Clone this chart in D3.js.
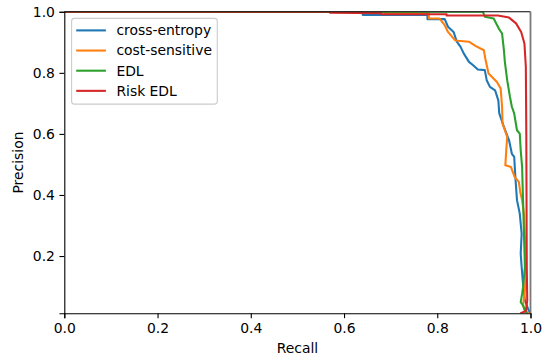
<!DOCTYPE html>
<html><head><meta charset="utf-8">
<script src="https://cdn.jsdelivr.net/npm/d3@7"></script>
<style>body{margin:0;background:#fff}svg{display:block}text{font-family:"DejaVu Sans",sans-serif}</style>
</head><body><svg id="c" width="545" height="362"></svg>
<script>
const seriesNames = ["cross-entropy","cost-sensitive","EDL","Risk EDL"];
const seriesColors = ["#1f77b4","#ff7f0e","#2ca02c","#d62728"];
const xTicks = [0.0,0.2,0.4,0.6,0.8,1.0];
const yTicks = [0.2,0.4,0.6,0.8,1.0];

const ceRecall = [0,0.64,0.64,0.779,0.779,0.816,0.823,0.835,0.842,0.85,0.857,0.868,0.877,0.887,0.902,0.906,0.913,0.924,0.931,0.933,0.943,0.954,0.96,0.965,0.968,0.971,0.977,0.981,0.979,0.981,0.984,0.988,0.996,1.0];
const cePrecision = [1,1,0.99,0.99,0.976,0.976,0.951,0.934,0.902,0.885,0.863,0.836,0.825,0.811,0.809,0.776,0.754,0.743,0.71,0.667,0.623,0.579,0.535,0.525,0.448,0.383,0.339,0.273,0.208,0.164,0.109,0.055,0.022,0.013];

const csRecall = [0,0.689,0.689,0.782,0.782,0.805,0.816,0.823,0.838,0.845,0.868,0.88,0.9,0.903,0.91,0.917,0.928,0.936,0.939,0.94,0.945,0.95,0.948,0.946,0.958,0.966,0.975,0.978,0.982,0.986,0.988,0.99,0.988,0.984,0.988,0.995];
const csPrecision = [1,1,0.995,0.995,0.978,0.978,0.956,0.934,0.907,0.905,0.902,0.89,0.874,0.847,0.798,0.787,0.77,0.749,0.689,0.634,0.612,0.59,0.546,0.497,0.492,0.459,0.443,0.41,0.383,0.339,0.251,0.164,0.087,0.038,0.022,0.013];

const edlRecall = [0,0.898,0.902,0.921,0.932,0.939,0.943,0.945,0.95,0.956,0.96,0.965,0.971,0.977,0.979,0.982,0.984,0.986,0.988,0.984,0.982,0.979,0.984,0.988,0.992];
const edlPrecision = [1,1,0.984,0.978,0.945,0.929,0.874,0.836,0.776,0.721,0.689,0.667,0.612,0.601,0.546,0.492,0.383,0.273,0.164,0.098,0.076,0.049,0.038,0.022,0.013];

const riskRecall = [0,0.57,0.57,0.68,0.68,0.82,0.82,0.93,0.954,0.969,0.98,0.987,0.99,0.991,0.992,0.993,0.99,0.98];
const riskPrecision = [1,1,0.997,0.995,0.992,0.992,0.988,0.988,0.981,0.962,0.934,0.896,0.82,0.6,0.164,0.055,0.02,0.013];

const recalls = [ceRecall,csRecall,edlRecall,riskRecall];
const precisions = [cePrecision,csPrecision,edlPrecision,riskPrecision];

const L=64.3,R=530.5,T=11.8,B=313.3;
const svg=d3.select("#c");
const x=d3.scaleLinear().domain([0,1]).range([L,R]);
const y=d3.scaleLinear().domain([0.0124,1]).range([B,T]);

svg.append("defs").append("clipPath").attr("id","clip").append("rect")
  .attr("x",L).attr("y",T).attr("width",R-L).attr("height",B-T);

const line=d3.line().x(d=>x(d[0])).y(d=>y(d[1]));
const g=svg.append("g").attr("clip-path","url(#clip)");
recalls.forEach((rs,i)=>{
  const pts=rs.map((r,j)=>[r,precisions[i][j]]);
  g.append("path").datum(pts).attr("d",line).attr("fill","none")
    .attr("stroke",seriesColors[i]).attr("stroke-width",2.08)
    .attr("stroke-linejoin","round").attr("stroke-linecap","square");
});

// spines
svg.append("line").attr("x1",L).attr("x2",R).attr("y1",T).attr("y2",T).attr("stroke","#000").attr("stroke-width",1.1);
svg.append("line").attr("x1",R).attr("x2",R).attr("y1",T).attr("y2",B).attr("stroke","#7a7a7a").attr("stroke-width",1.8);

const fs=13.9;
const xa=svg.append("g").attr("transform",`translate(0,${B})`)
  .call(d3.axisBottom(x).tickValues(xTicks).tickFormat(d3.format(".1f")).tickSize(4.86).tickPadding(4.5));
const ya=svg.append("g").attr("transform",`translate(${L},0)`)
  .call(d3.axisLeft(y).tickValues(yTicks).tickFormat(d3.format(".1f")).tickSize(4.86).tickPadding(4.5));
[xa,ya].forEach(a=>{
  a.select(".domain").attr("stroke","#000").attr("stroke-width",1.1);
  a.selectAll(".tick line").attr("stroke","#000").attr("stroke-width",1.1);
  a.selectAll(".tick text").attr("fill","#000").style("font-size",fs+"px").style("font-family","DejaVu Sans");
});

svg.append("text").attr("x",(L+R)/2).attr("y",353).attr("text-anchor","middle")
  .style("font-size",fs+"px").text("Recall");
svg.append("text").attr("transform",`translate(23,${(T+B)/2}) rotate(-90)`).attr("text-anchor","middle")
  .style("font-size",fs+"px").text("Precision");

// legend
const lg=svg.append("g");
lg.append("rect").attr("x",71.6).attr("y",18.4).attr("width",145.7).attr("height",85.7)
  .attr("rx",2.8).attr("fill","#fff").attr("fill-opacity",0.8).attr("stroke","#cccccc").attr("stroke-width",1.1);
seriesNames.forEach((n,i)=>{
  const cy=30.4+i*20.15;
  lg.append("line").attr("x1",76.2).attr("x2",105.9).attr("y1",cy).attr("y2",cy)
    .attr("stroke",seriesColors[i]).attr("stroke-width",2.08);
  lg.append("text").attr("x",116.4).attr("y",cy).attr("dy","0.35em")
    .style("font-size",fs+"px").attr("fill","#000").text(n);
});
</script></body></html>
